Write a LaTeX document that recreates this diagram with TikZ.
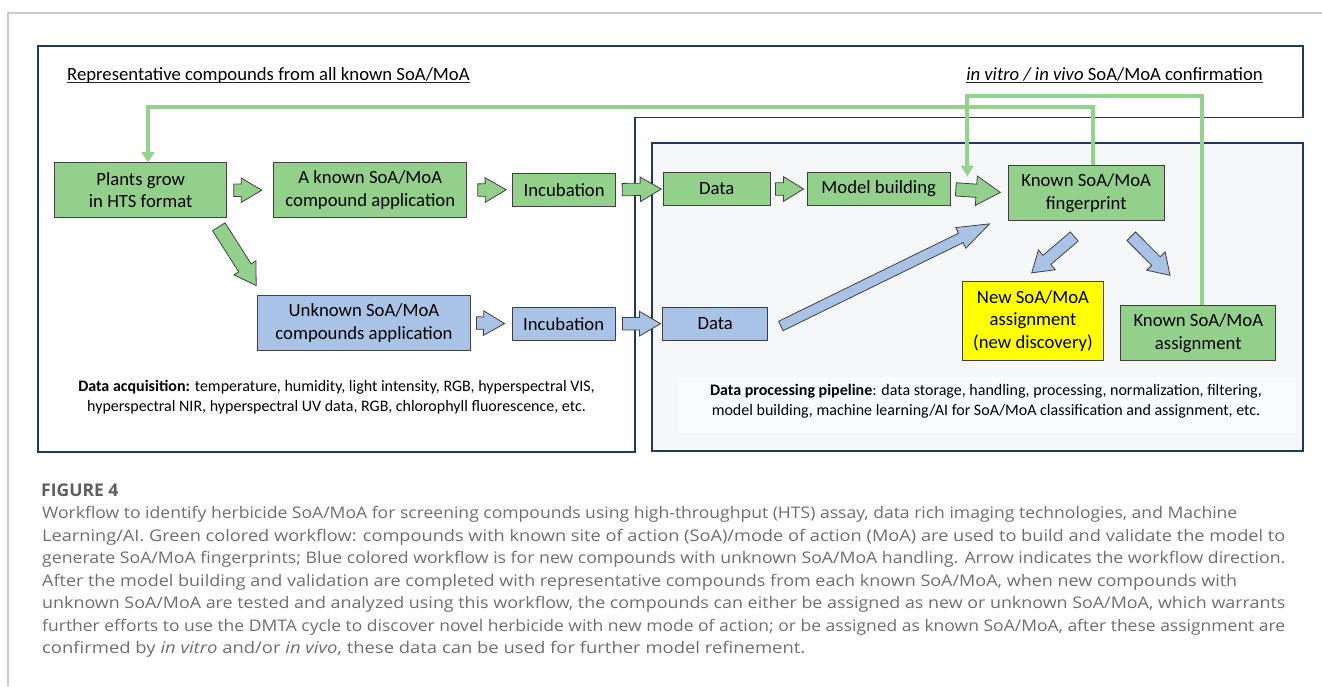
\documentclass[tikz,border=0pt]{standalone}
\usepackage{fontspec}
\setmainfont{Carlito}
\newfontfamily\capfont{Open Sans}
\usepackage{graphicx}
\usetikzlibrary{calc,arrows.meta}
\definecolor{navy}{HTML}{203864}
\definecolor{gfill}{HTML}{93D08B}
\definecolor{bfill}{HTML}{A9C3E7}
\definecolor{yfill}{HTML}{FFFF00}
\definecolor{glinec}{HTML}{93D38D}
\definecolor{outl}{HTML}{404040}
\definecolor{capgray}{HTML}{6E6E6E}
\definecolor{figgray}{HTML}{5E5E5E}
\definecolor{framegray}{HTML}{CCCCCC}
\definecolor{panel}{HTML}{F6F7F9}
\tikzset{
  flowbox/.style={draw=outl,line width=1pt,align=center,inner sep=0pt,font=\fontsize{18.7}{22.5}\selectfont},
  gbox/.style={flowbox,fill=gfill},
  bbox/.style={flowbox,fill=bfill},
  ybox/.style={flowbox,fill=yfill},
  garr/.style={draw=outl,line width=0.8pt,fill=gfill,line join=miter},
  barr/.style={draw=outl,line width=0.8pt,fill=bfill,line join=miter},
  blk/.style n args={5}{to path={
    ($(\tikztostart)!#4!(\tikztotarget)!#1!90:(\tikztotarget)$)
    -- ($(\tikztotarget)!#5!(\tikztostart)!#3!(\tikztostart)!#1!90:(\tikztotarget)$)
    -- ($(\tikztotarget)!#5!(\tikztostart)!#3!(\tikztostart)!#2!90:(\tikztotarget)$)
    -- ($(\tikztotarget)!#5!(\tikztostart)$)
    -- ($(\tikztotarget)!#5!(\tikztostart)!#3!(\tikztostart)!#2!-90:(\tikztotarget)$)
    -- ($(\tikztotarget)!#5!(\tikztostart)!#3!(\tikztostart)!#1!-90:(\tikztotarget)$)
    -- ($(\tikztostart)!#4!(\tikztotarget)!#1!-90:(\tikztotarget)$)
    -- cycle}},
  fbline/.style={draw=glinec,line width=4pt},
  headtxt/.style={font=\fontsize{18.7}{22.5}\selectfont,inner sep=0pt},
  ulinestyle/.style={draw=black!85,line width=0.9pt},
  notetxt/.style={align=center,inner sep=0pt,font=\fontsize{16}{20.5}\selectfont},
  captxt/.style={anchor=west,inner sep=0pt,text=capgray,font=\capfont\fontsize{16}{19}\selectfont}
}
\begin{document}
\begin{tikzpicture}[x=1pt,y=-1pt]
\useasboundingbox (0,0) rectangle (1322,686);
% page frame
\draw[framegray,line width=1.5pt] (1322,13) -- (8,13) -- (8,686);
% panels
\draw[navy,line width=1.5pt] (38,46) -- (1303,46) -- (1303,117.5) -- (635,117.5) -- (635,452) -- (38,452) -- cycle;
\draw[navy,line width=1.5pt,fill=panel] (652,143) rectangle (1303,451);
\fill[white,opacity=0.5] (678,377) rectangle (1296,433);
% headings
\node[headtxt,anchor=base west] (hleft) at (67,80) {Representative compounds from all known SoA/MoA};
\node[headtxt,anchor=base east] (hright) at (1263,80) {\textit{in vitro / in vivo} SoA/MoA confirmation};
\draw[ulinestyle] ($(hleft.base west)+(0,2.5)$) -- ($(hleft.base east)+(0,2.5)$);
\draw[ulinestyle] ($(hright.base west)+(0,2.5)$) -- ($(hright.base east)+(0,2.5)$);
% boxes
\node[gbox,minimum width=172pt,minimum height=55pt] (plants) at (140.7,190.2) {Plants grow\\in HTS format};
\node[gbox,minimum width=192.7pt,minimum height=55pt] (known) at (370.3,190.2) {A known SoA/MoA\\compound application};
\node[gbox,minimum width=103pt,minimum height=32.7pt] (incG) at (564.2,189.7) {Incubation};
\node[gbox,minimum width=106.7pt,minimum height=33.4pt] (dataG) at (716.7,189) {Data};
\node[gbox,minimum width=142.7pt,minimum height=33.4pt] (model) at (878.7,189) {Model building};
\node[gbox,minimum width=155.7pt,minimum height=55.7pt] (fp) at (1086.2,192.9) {Known SoA/MoA\\fingerprint};
\node[bbox,minimum width=213.4pt,minimum height=55.7pt] (unk) at (364,322.9) {Unknown SoA/MoA\\compounds application};
\node[bbox,minimum width=102.7pt,minimum height=32.7pt] (incB) at (563.7,323.7) {Incubation};
\node[bbox,minimum width=105pt,minimum height=32.7pt] (dataB) at (715.2,323.7) {Data};
\node[ybox,minimum width=140.6pt,minimum height=78.3pt] (newA) at (1033,320.9) {New SoA/MoA\\assignment\\(new discovery)};
\node[gbox,minimum width=155.3pt,minimum height=55.7pt] (ka) at (1198.3,332.9) {Known SoA/MoA\\assignment};
% notes
\node[notetxt] (acq) at (336.5,397) {\textbf{Data acquisition:} temperature, humidity, light intensity, RGB, hyperspectral VIS,\\hyperspectral NIR, hyperspectral UV data, RGB, chlorophyll fluorescence, etc.};
\node[notetxt] (proc) at (986,401.5) {\textbf{Data processing pipeline}: data storage, handling, processing, normalization, filtering,\\model building, machine learning/AI for SoA/MoA classification and assignment, etc.};
% green block arrows
\draw[garr] (plants.east) to[blk={6.2pt}{12.3pt}{20.6pt}{6.6pt}{11.7pt}] (known.west);
\draw[garr] (known.east) to[blk={6.2pt}{12.3pt}{21pt}{10.6pt}{6pt}] (incG.west);
\draw[garr] (incG.east) to[blk={6.2pt}{12.3pt}{21pt}{6pt}{1.6pt}] (dataG.west);
\draw[garr] (dataG.east) to[blk={6.2pt}{12.3pt}{20pt}{5pt}{3.3pt}] (model.west);
\draw[garr] (model.east) to[blk={6.6pt}{14.7pt}{24pt}{5.3pt}{7.6pt}] (fp.west);
\draw[garr] ($(plants.south east)+(-8.4,8.6)$) to[blk={7.4pt}{13pt}{21pt}{0pt}{0pt}] ($(unk.north west)+(-0.6,-9)$);
% blue block arrows
\draw[barr] (unk.east) to[blk={6.2pt}{12.3pt}{21pt}{5.3pt}{7.3pt}] (incB.west);
\draw[barr] (incB.east) to[blk={6.2pt}{12.3pt}{21pt}{7pt}{1.7pt}] (dataB.west);
\draw[barr] ($(dataB.east)+(12.6,2.3)$) to[blk={5.2pt}{11.5pt}{32pt}{0pt}{0pt}] ($(fp.south west)+(-18.3,2.6)$);
\draw[barr] ($(fp.south)+(-12,15.3)$) to[blk={6pt}{13pt}{20pt}{0pt}{0pt}] ($(newA.north)+(-1.3,-8.4)$);
\draw[barr] ($(fp.south east)+(-33.3,15)$) to[blk={6pt}{13pt}{20pt}{0pt}{0pt}] ($(ka.north)+(-28.3,-29.3)$);
% feedback lines
\coordinate (conf) at (967.3,176.7);
\draw[fbline,-{Triangle[length=10pt,width=13pt]}] ($(fp.north)+(7,0)$) -- ++(0,-57.7) -| ($(plants.north)+(7.3,0)$);
\draw[fbline,-{Triangle[length=11pt,width=12pt]}] ($(ka.north)+(3.4,0)$) -- ++(0,-208.3) -| (conf);
% caption
\node[anchor=west,inner sep=0pt,text=figgray,font=\capfont\bfseries\fontsize{17.5}{20}\selectfont] (fig) at (41,490) {FIGURE 4};
\node[captxt] (c1) at (42,514) {\resizebox{1195pt}{\height}{Workflow to identify herbicide SoA/MoA for screening compounds using high-throughput (HTS) assay, data rich imaging technologies, and Machine}};
\node[captxt] (c2) at (42,537) {\resizebox{1243pt}{\height}{Learning/AI. Green colored workflow: compounds with known site of action (SoA)/mode of action (MoA) are used to build and validate the model to}};
\node[captxt] (c3) at (42,559.5) {\resizebox{1243pt}{\height}{generate SoA/MoA fingerprints; Blue colored workflow is for new compounds with unknown SoA/MoA handling. Arrow indicates the workflow direction.}};
\node[captxt] (c4) at (42,582) {\resizebox{1195pt}{\height}{After the model building and validation are completed with representative compounds from each known SoA/MoA, when new compounds with}};
\node[captxt] (c5) at (42,604.5) {\resizebox{1243pt}{\height}{unknown SoA/MoA are tested and analyzed using this workflow, the compounds can either be assigned as new or unknown SoA/MoA, which warrants}};
\node[captxt] (c6) at (42,627) {\resizebox{1243pt}{\height}{further efforts to use the DMTA cycle to discover novel herbicide with new mode of action; or be assigned as known SoA/MoA, after these assignment are}};
\node[captxt] (c7) at (42,649.5) {\resizebox{763pt}{\height}{confirmed by \textit{in vitro} and/or \textit{in vivo}, these data can be used for further model refinement.}};
\end{tikzpicture}
\end{document}
